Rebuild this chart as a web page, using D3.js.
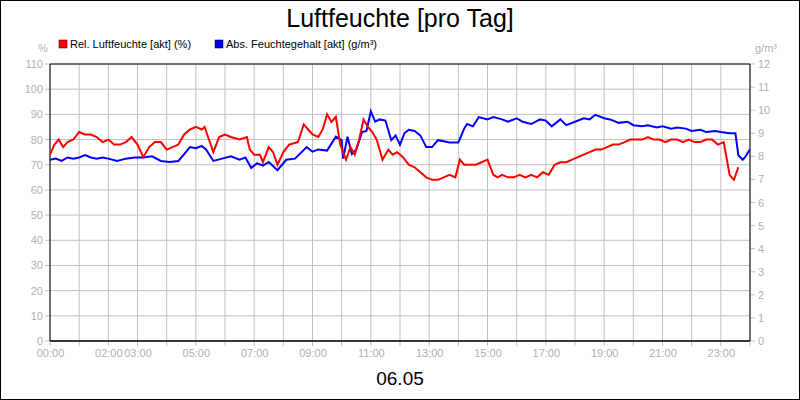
<!DOCTYPE html>
<html><head><meta charset="utf-8">
<script src="https://cdn.jsdelivr.net/npm/d3@7"></script>
<style>body{margin:0}svg{font-family:"Liberation Sans",Arial,sans-serif}</style>
</head><body><svg width="800" height="400"></svg>
<script>
const xTickHours=[0,2,3,5,7,9,11,13,15,17,19,21,23];
const xTickLabels=["00:00","02:00","03:00","05:00","07:00","09:00","11:00","13:00","15:00","17:00","19:00","21:00","23:00"];
const leftTicks=[0,10,20,30,40,50,60,70,80,90,100,110];
const rightTicks=[0,1,2,3,4,5,6,7,8,9,10,11,12];
const relT=[0,0.15,0.3,0.45,0.6,0.8,1.0,1.2,1.4,1.6,1.8,2.0,2.2,2.4,2.6,2.8,3.0,3.2,3.4,3.6,3.8,4.0,4.2,4.4,4.6,4.8,5.0,5.2,5.3,5.45,5.6,5.8,6.0,6.2,6.5,6.75,6.85,7.0,7.2,7.3,7.5,7.65,7.8,8.0,8.2,8.5,8.7,8.85,9.0,9.2,9.35,9.5,9.65,9.8,9.95,10.05,10.15,10.3,10.45,10.6,10.75,10.9,11.05,11.2,11.4,11.6,11.75,11.9,12.1,12.3,12.5,12.7,12.9,13.1,13.3,13.5,13.7,13.9,14.05,14.2,14.4,14.6,14.8,15.0,15.2,15.35,15.5,15.7,15.9,16.1,16.3,16.5,16.7,16.9,17.1,17.3,17.5,17.7,17.9,18.1,18.3,18.5,18.7,18.9,19.1,19.3,19.5,19.7,19.9,20.1,20.3,20.5,20.7,20.9,21.1,21.3,21.5,21.7,21.9,22.1,22.3,22.5,22.7,22.9,23.1,23.3,23.45,23.6,23.75,23.9,24];
const relV=[74,78,80,77,79,80,83,82,82,81,79,80,78,78,79,81,78,73,77,79,79,76,77,78,82,84,85,84,85,80,75,81,82,81,80,81,76,74,74,71,77,75,70,75,78,79,86,84,82,81,84,90,87,89,78,75,72,77,74,80,88,85,83,80,72,76,74,75,73,70,69,67,65,64,64,65,66,65,72,70,70,70,71,72,66,65,66,65,65,66,65,66,65,67,66,70,71,71,72,73,74,75,76,76,77,78,78,79,80,80,80,81,80,80,79,80,80,79,80,79,79,80,80,78,79,66,64,69];
const absT=[0,0.2,0.4,0.6,0.8,1.0,1.2,1.4,1.6,1.8,2.0,2.3,2.6,2.9,3.2,3.5,3.8,4.1,4.4,4.6,4.8,5.0,5.2,5.35,5.6,5.9,6.2,6.5,6.7,6.9,7.1,7.3,7.5,7.8,8.1,8.4,8.8,9.0,9.2,9.5,9.8,10.0,10.05,10.2,10.35,10.5,10.7,10.85,11.0,11.15,11.3,11.5,11.7,11.85,12.0,12.15,12.3,12.5,12.7,12.9,13.1,13.3,13.5,13.7,14.0,14.2,14.3,14.5,14.7,15.0,15.2,15.5,15.7,16.0,16.2,16.5,16.8,17.0,17.2,17.5,17.7,18.0,18.3,18.5,18.7,19.0,19.2,19.5,19.8,20.0,20.3,20.5,20.8,21.0,21.3,21.5,21.8,22.0,22.3,22.5,22.8,23.0,23.3,23.5,23.6,23.75,23.85,24];
const absV=[7.85,7.9,7.8,7.95,7.9,7.95,8.05,7.95,7.9,7.95,7.9,7.8,7.9,7.95,7.95,8.0,7.8,7.75,7.8,8.1,8.4,8.35,8.45,8.3,7.8,7.9,8.0,7.85,7.95,7.5,7.7,7.6,7.75,7.4,7.85,7.9,8.4,8.2,8.3,8.25,8.85,8.7,7.9,8.85,8.1,8.3,9.05,9.1,9.95,9.5,9.6,9.55,8.7,8.9,8.5,9.0,9.15,9.1,8.9,8.4,8.4,8.7,8.65,8.6,8.6,9.2,9.4,9.3,9.7,9.6,9.7,9.6,9.5,9.65,9.5,9.4,9.6,9.55,9.3,9.6,9.35,9.5,9.65,9.6,9.8,9.65,9.6,9.45,9.5,9.35,9.3,9.35,9.25,9.3,9.2,9.25,9.2,9.1,9.15,9.05,9.1,9.05,9.0,9.0,8.05,7.85,8.0,8.3];

const svg=d3.select("svg");
const L=50,R=750,T=64,B=341;
svg.append("rect").attr("x",0.5).attr("y",0.5).attr("width",799).attr("height",399).attr("fill","#fff").attr("stroke","#000");
const x=d3.scaleLinear().domain([0,24]).range([L,R]);
const yl=d3.scaleLinear().domain([0,110]).range([B,T]);
const yr=d3.scaleLinear().domain([0,12]).range([B,T]);
const g=svg.append("g");
d3.range(0,25).forEach(h=>g.append("line").attr("x1",x(h)).attr("x2",x(h)).attr("y1",T).attr("y2",B+5).attr("stroke","#c0c0c0"));
leftTicks.forEach(v=>g.append("line").attr("x1",L-5).attr("x2",R).attr("y1",yl(v)).attr("y2",yl(v)).attr("stroke","#c0c0c0"));
rightTicks.forEach(v=>g.append("line").attr("x1",R).attr("x2",R+5).attr("y1",yr(v)).attr("y2",yr(v)).attr("stroke","#c0c0c0"));
const la=svg.append("g").attr("transform",`translate(${L},0)`).call(d3.axisLeft(yl).tickValues(leftTicks).tickSize(0).tickPadding(7));
const ra=svg.append("g").attr("transform",`translate(${R},0)`).call(d3.axisRight(yr).tickValues(rightTicks).tickSize(0).tickPadding(8));
const ba=svg.append("g").attr("transform",`translate(0,${B})`).call(d3.axisBottom(x).tickValues(xTickHours).tickFormat((d,i)=>xTickLabels[i]).tickSize(0).tickPadding(8));
[la,ra,ba].forEach(a=>{a.select(".domain").remove();a.selectAll("text").attr("fill","#b0b0b0").style("font-size","11px");});
svg.append("line").attr("x1",L).attr("x2",R).attr("y1",T).attr("y2",T).attr("stroke","#000");
svg.append("line").attr("x1",L).attr("x2",R).attr("y1",B).attr("y2",B).attr("stroke","#000").attr("stroke-width",1.5);
svg.append("line").attr("x1",L).attr("x2",L).attr("y1",T).attr("y2",B).attr("stroke","#000");
svg.append("line").attr("x1",R).attr("x2",R).attr("y1",T).attr("y2",B).attr("stroke","#000");
const clip=svg.append("clipPath").attr("id","c").append("rect").attr("x",L).attr("y",T).attr("width",R-L).attr("height",B-T);
svg.append("path").attr("clip-path","url(#c)").attr("d",d3.line().x((d,i)=>x(absT[i])).y(d=>yr(d))(absV)).attr("fill","none").attr("stroke","#0000ff").attr("stroke-width",2);
svg.append("path").attr("clip-path","url(#c)").attr("d",d3.line().x((d,i)=>x(relT[i])).y(d=>yl(d))(relV)).attr("fill","none").attr("stroke","#ff0000").attr("stroke-width",2);
svg.append("text").attr("x",400).attr("y",27).attr("text-anchor","middle").style("font-size","25px").text("Luftfeuchte [pro Tag]");
svg.append("text").attr("x",400).attr("y",385).attr("text-anchor","middle").style("font-size","19px").text("06.05");
svg.append("text").attr("x",43).attr("y",52).attr("text-anchor","middle").attr("fill","#b0b0b0").style("font-size","11px").text("%");
svg.append("text").attr("x",766).attr("y",52).attr("text-anchor","middle").attr("fill","#b0b0b0").style("font-size","11px").text("g/m³");
const leg=[["#ff0000","Rel. Luftfeuchte [akt] (%)",59],["#0000ff","Abs. Feuchtegehalt [akt] (g/m³)",215]];
leg.forEach(([c,t,lx])=>{svg.append("rect").attr("x",lx).attr("y",40).attr("width",8).attr("height",8).attr("fill",c).attr("stroke","#000").attr("stroke-width",0.5);
svg.append("text").attr("x",lx+11).attr("y",48).style("font-size","11px").text(t);});
</script></body></html>
